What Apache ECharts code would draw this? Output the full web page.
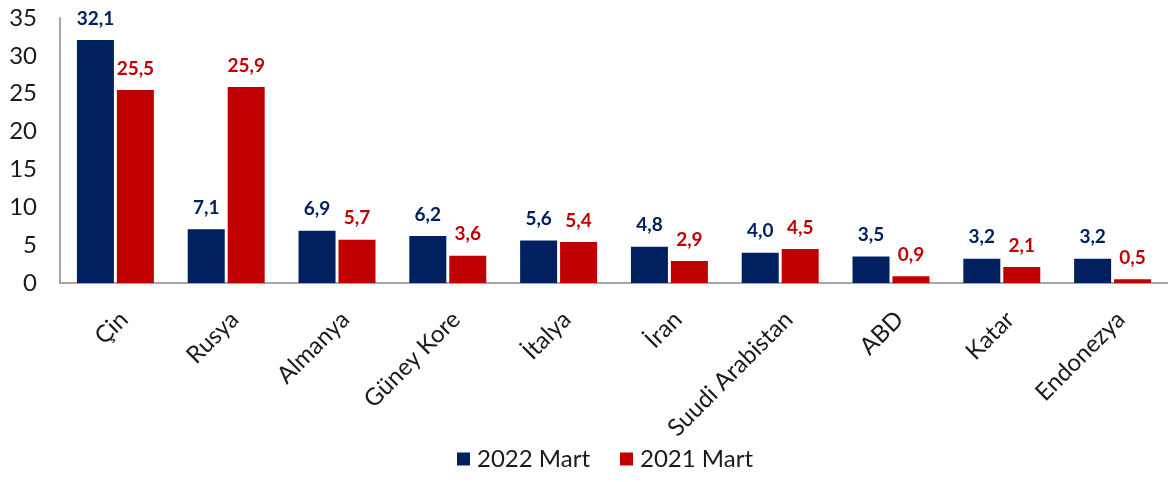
<!DOCTYPE html>
<html>
<head>
<meta charset="utf-8">
<script src="https://cdn.jsdelivr.net/npm/echarts@6/dist/echarts.min.js"></script>
<style>html,body{margin:0;padding:0;background:#fff}#c{width:1168px;height:482px}</style>
</head>
<body>
<div id="c"></div>
<script>
const categories = ["Çin","Rusya","Almanya","Güney Kore","İtalya","İran","Suudi Arabistan","ABD","Katar","Endonezya"];
const series2022 = [32.1,7.1,6.9,6.2,5.6,4.8,4.0,3.5,3.2,3.2];
const series2021 = [25.5,25.9,5.7,3.6,5.4,2.9,4.5,0.9,2.1,0.5];
const seriesNames = ["2022 Mart","2021 Mart"];
const yTicks = {min:0,max:35,interval:5};

const FONT = "Lato";
const fmt = p => p.value.toFixed(1).replace('.', ',');
const chart = echarts.init(document.getElementById('c'), null, {renderer:'canvas'});
chart.setOption({
  animation:false,
  textStyle:{fontFamily:FONT},
  grid:{left:60, top:18, bottom:199, width:1111, containLabel:false},
  legend:{
    data:seriesNames, bottom:6, left:452, itemWidth:13, itemHeight:13, itemGap:30,
    icon:'rect',
    textStyle:{fontFamily:FONT, fontSize:24, color:'#1a1a1a', padding:[0,0,0,2]}
  },
  xAxis:{
    type:'category', data:categories,
    axisLine:{show:true, lineStyle:{color:'#a6a6a6', width:2}},
    axisTick:{show:false},
    axisLabel:{rotate:45, interval:0, margin:24, verticalAlign:'top', fontFamily:FONT, fontSize:24, color:'#1a1a1a'}
  },
  yAxis:{
    type:'value', min:yTicks.min, max:yTicks.max, interval:yTicks.interval,
    axisLine:{show:true, lineStyle:{color:'#a6a6a6', width:2}},
    axisTick:{show:false},
    splitLine:{show:false},
    axisLabel:{margin:23, fontFamily:FONT, fontSize:24, color:'#1a1a1a'}
  },
  series:[
    {name:seriesNames[0], type:'bar', data:series2022, barWidth:37, barGap:'8%',
     itemStyle:{color:'#002060'},
     label:{show:true, position:'top', distance:12, formatter:fmt, fontFamily:FONT, fontWeight:'bold', fontSize:19, color:'#002060'}},
    {name:seriesNames[1], type:'bar', data:series2021, barWidth:37, barGap:'8%',
     itemStyle:{color:'#C00000'},
     label:{show:true, position:'top', distance:12, formatter:fmt, fontFamily:FONT, fontWeight:'bold', fontSize:19, color:'#C00000'}}
  ]
});
</script>
</body>
</html>
